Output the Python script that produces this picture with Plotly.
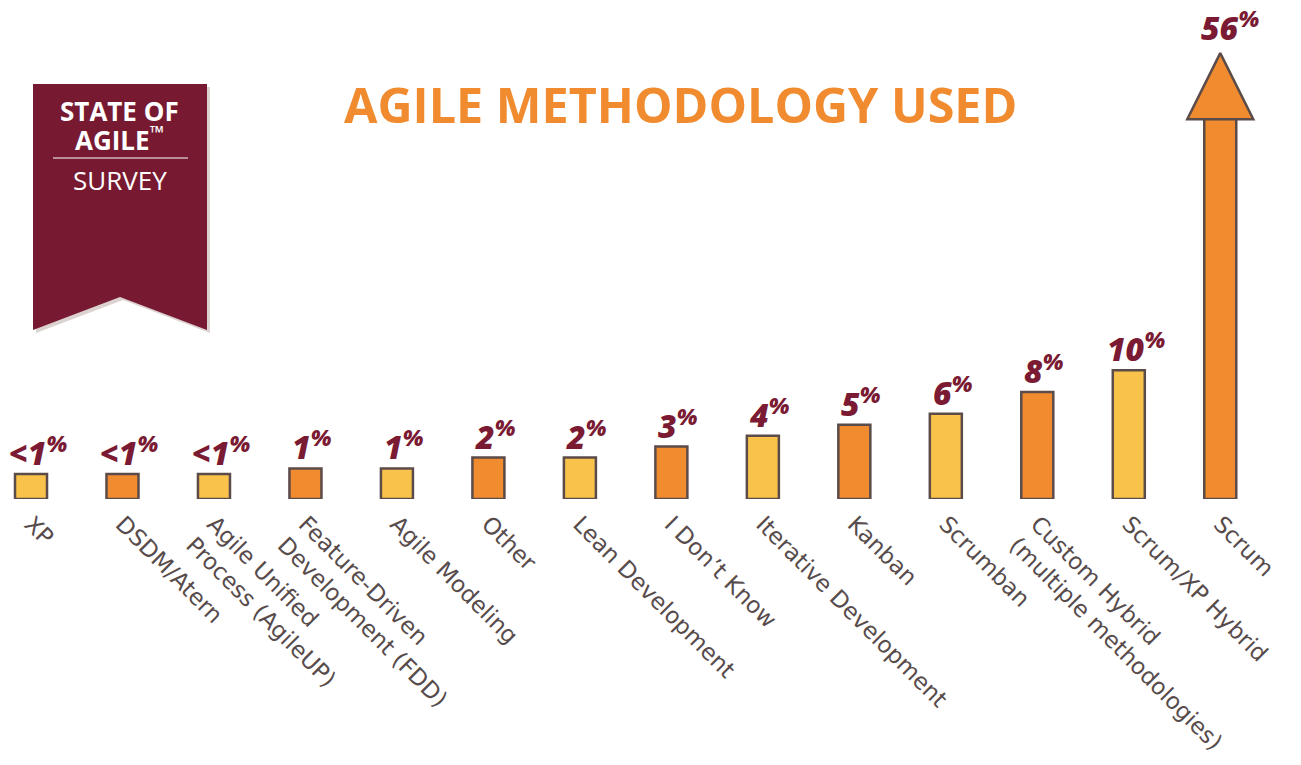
import plotly.graph_objects as go

# ---------------- data ----------------
categories = [
    "XP", "DSDM/Atern", "Agile Unified<br>Process (AgileUP)",
    "Feature-Driven<br>Development (FDD)", "Agile Modeling", "Other",
    "Lean Development", "I Don’t Know", "Iterative Development", "Kanban",
    "Scrumban", "Custom Hybrid<br>(multiple methodologies)",
    "Scrum/XP Hybrid", "Scrum",
]
values = [0.5, 0.5, 0.5, 1, 1, 2, 2, 3, 4, 5, 6, 8, 10, 56]
value_labels = ["<1%", "<1%", "<1%", "1%", "1%", "2%", "2%", "3%", "4%",
                "5%", "6%", "8%", "10%", "56%"]
title_text = "AGILE METHODOLOGY USED"

# ---------------- styles ----------------
YELLOW = "#F9C24A"
ORANGE = "#F18B2F"
OUTLINE = "#5b4b49"
MAROON = "#7A1A33"
LABEL_GREY = "#574b4b"
W, H = 1301, 765
M_L, M_R, M_T, M_B = 0, 35, 50, 266
STUB = -1.8          # visual stub so tiny bars stay visible
Y_TOP = 33.0         # broken scale: the Scrum shaft runs past the top
Y2_TOP = 56.4        # scale used only for the arrow head
HEAD = 66
plot_w = W - M_L - M_R
plot_h = H - M_T - M_B
SHAFT_TOP_PX = 119   # where the arrow head begins (pixels from top)
bar_domain_top = (H - M_B - SHAFT_TOP_PX) / plot_h

colors = [YELLOW if i % 2 == 0 else ORANGE for i in range(len(values))]


def px_x(px):
    return (px - M_L) / plot_w


def px_y(py):
    return (H - M_B - py) / plot_h


fig = go.Figure()

fig.add_trace(go.Bar(
    x=categories, y=[v - STUB for v in values], base=STUB,
    marker=dict(color=colors, line=dict(color=OUTLINE, width=2.5)),
    width=0.35, hoverinfo="skip", showlegend=False,
))

# arrow head for the off-scale Scrum value
fig.add_trace(go.Scatter(
    x=[categories[-1]], y=[values[-1]], yaxis="y2", mode="markers",
    marker=dict(symbol="arrow-up", size=HEAD, color=colors[-1],
                line=dict(color=OUTLINE, width=2.5)),
    cliponaxis=False, hoverinfo="skip", showlegend=False,
))

annotations = []
last = len(values) - 1
for i, (c, v, lab) in enumerate(zip(categories, values, value_labels)):
    txt = lab.replace("%", "<sup>%</sup>")
    annotations.append(dict(
        x=c, y=v, xref="x", yref="y2" if i == last else "y",
        text=txt, showarrow=False, yanchor="bottom",
        xshift=10 if i == last else 7,
        yshift=2 if i == last else -2,
        font=dict(family="Open Sans", size=32, color=MAROON,
                  weight=800, style="italic"),
    ))

# title
annotations.append(dict(
    x=px_x(681), y=px_y(104), xref="paper", yref="paper", text=title_text,
    showarrow=False, xanchor="center", yanchor="middle",
    font=dict(family="Open Sans", size=48.5, color=ORANGE, weight=700),
))

# banner texts
bx = px_x(120)
annotations += [
    dict(x=bx, y=px_y(111), xref="paper", yref="paper", text="STATE OF",
         showarrow=False, xanchor="center", yanchor="middle",
         font=dict(family="Open Sans", size=26, color="white", weight=700)),
    dict(x=bx, y=px_y(139), xref="paper", yref="paper",
         text="AGILE<sup>™</sup>", showarrow=False, xanchor="center",
         yanchor="middle",
         font=dict(family="Open Sans", size=26, color="white", weight=700)),
    dict(x=bx, y=px_y(180), xref="paper", yref="paper", text="SURVEY",
         showarrow=False, xanchor="center", yanchor="middle",
         font=dict(family="Open Sans", size=26, color="white", weight=400)),
]


def banner_path(dx=0, dy=0):
    pts = [(33, 84), (207, 84), (207, 330), (120, 297), (33, 330)]
    return "M " + " L ".join(f"{px_x(x + dx):.5f},{px_y(y + dy):.5f}"
                             for x, y in pts) + " Z"


shapes = [
    dict(type="path", xref="paper", yref="paper", path=banner_path(3, 3),
         fillcolor="#dcd3d1", line=dict(width=0), layer="below"),
    dict(type="path", xref="paper", yref="paper", path=banner_path(),
         fillcolor="#771A31", line=dict(width=0), layer="below"),
    dict(type="line", xref="paper", yref="paper",
         x0=px_x(53), x1=px_x(188), y0=px_y(158), y1=px_y(158),
         line=dict(color="white", width=1.2)),
]

fig.update_layout(
    width=W, height=H,
    margin=dict(l=M_L, r=M_R, t=M_T, b=M_B),
    paper_bgcolor="white", plot_bgcolor="rgba(0,0,0,0)",
    xaxis=dict(range=[-0.339, 13.5], tickangle=45, showgrid=False,
               showline=False, ticks="", zeroline=False,
               ticklabelstandoff=6,
               tickfont=dict(family="DejaVu Sans", size=23,
                             color=LABEL_GREY)),
    yaxis=dict(range=[STUB, Y_TOP], domain=[0, bar_domain_top],
               visible=False, fixedrange=True),
    yaxis2=dict(range=[0, Y2_TOP], domain=[0, 1], anchor="x",
                visible=False),
    annotations=annotations, shapes=shapes,
)

fig.write_html("out.html")
